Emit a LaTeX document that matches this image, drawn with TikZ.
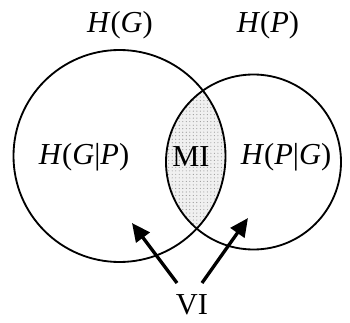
\documentclass[tikz,border=0pt]{standalone}
\usepackage{fontspec}
\setmainfont{Liberation Serif}
\usetikzlibrary{arrows.meta,patterns}

\begin{document}
\begin{tikzpicture}[
    x=0.03cm,y=0.03cm,
    lbl/.style={inner sep=0pt,font=\fontsize{26}{30}\selectfont},
    ring/.style={circle,draw,line width=0.055cm,inner sep=0pt,minimum size=#1},
    arr/.style={-{Triangle[length=0.55cm,width=0.5cm]},line width=0.1cm},
]
\useasboundingbox (0,0) rectangle (350,322);

% Shaded overlap (MI)
\begin{scope}
\clip (119.5,166) circle[radius=106];
\fill[gray!12] (253.5,160) circle[radius=87.5];
\fill[pattern=dots,pattern color=gray!80] (253.5,160) circle[radius=87.5];
\end{scope}

% Entropy circles
\node[ring=6.36cm] (hg) at (119.5,166) {};
\node[ring=5.25cm] (hp) at (253.5,160) {};

% Labels
\node[lbl] (lg) at (120,297) {\textit{H}(\textit{G})};
\node[lbl] (lp) at (268,297) {\textit{H}(\textit{P})};
\node[lbl] (cgp) at (84,165) {\textit{H}(\textit{G}|\textit{P})};
\node[lbl] (mi) at (191,165) {MI};
\node[lbl] (cpg) at (286,165) {\textit{H}(\textit{P}|\textit{G})};
\node[lbl] (vi) at (192,17) {VI};

% Arrows
\coordinate (a1) at (177,39);
\coordinate (a2) at (202,39);
\coordinate (t1) at (132,99);
\coordinate (t2) at (248,104);
\draw[arr] (a1) -- (t1);
\draw[arr] (a2) -- (t2);
\end{tikzpicture}
\end{document}
